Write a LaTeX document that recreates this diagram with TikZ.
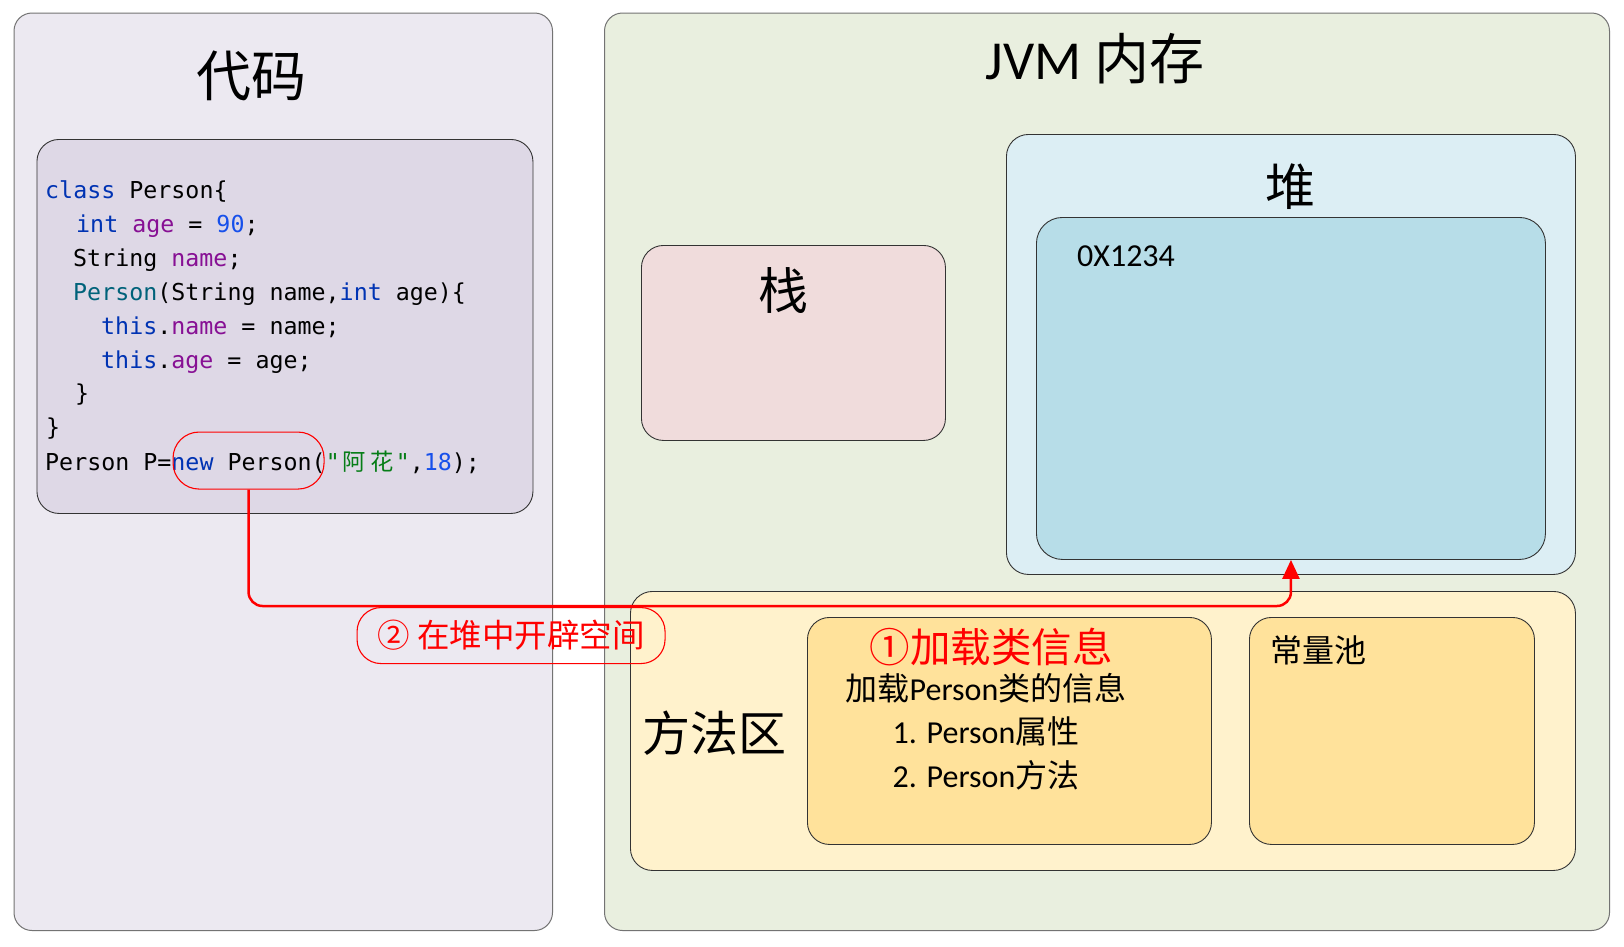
\documentclass[tikz,border=0pt]{standalone}
\usepackage{fontspec}
\setmainfont{Carlito}
\setmonofont{DejaVu Sans Mono}
\newfontfamily\cjk{Noto Sans CJK SC}
\usetikzlibrary{arrows.meta}
\definecolor{leftbg}{HTML}{ECE9F1}
\definecolor{codebg}{HTML}{DED8E6}
\definecolor{rightbg}{HTML}{E9EFDF}
\definecolor{stackbg}{HTML}{F0DCDC}
\definecolor{heapout}{HTML}{DCEEF4}
\definecolor{heapin}{HTML}{B7DDE8}
\definecolor{methbg}{HTML}{FFF2CC}
\definecolor{yelbox}{HTML}{FFE29B}
\definecolor{kw}{HTML}{0033B3}
\definecolor{fld}{HTML}{871094}
\definecolor{num}{HTML}{1750EB}
\definecolor{mth}{HTML}{00627A}
\definecolor{strc}{HTML}{067D17}
\definecolor{rd}{HTML}{FF0000}
\newcommand{\kwd}[1]{\textcolor{kw}{#1}}
\newcommand{\fldc}[1]{\textcolor{fld}{#1}}
\newcommand{\numc}[1]{\textcolor{num}{#1}}
\newcommand{\cj}[1]{\makebox[28pt][c]{\cjk #1}}
\begin{document}
\begin{tikzpicture}[x=1pt,y=-1pt,
  panel/.style={draw=black!55, line width=1pt, rounded corners=18pt, anchor=north west, inner sep=0pt},
  box/.style={draw=black!80, line width=0.9pt, rounded corners=22pt, anchor=north west, inner sep=0pt},
  redbox/.style={draw=rd, line width=1.1pt, rounded corners=25pt, anchor=north west, inner sep=0pt},
  codeline/.style={anchor=base west, inner sep=0pt, font=\ttfamily\fontsize{23.3}{28}\selectfont},
  title/.style={inner sep=0pt, font=\cjk\fontsize{55}{64}\selectfont},
  lbl/.style={inner sep=0pt, font=\cjk\fontsize{32}{38}\selectfont},
  redarrow/.style={draw=rd, line width=2.5pt, rounded corners=14pt, -{Triangle[width=17pt,length=19pt]}}
]
\useasboundingbox (0,0) rectangle (1624,946);
\fill[white] (0,0) rectangle (1624,946);

% panels
\node[panel, fill=leftbg, minimum width=538.5pt, minimum height=917.5pt] (leftp) at (13.5,12.5) {};
\node[panel, fill=rightbg, minimum width=1005pt, minimum height=917.5pt] (rightp) at (604,12.5) {};

% titles
\node[title] (t1) at (251,76) {代码};
\node[title, font=\fontsize{55}{64}\selectfont] (t2) at (1095,59) {JVM {\cjk 内存}};

% code box
\node[box, fill=codebg, minimum width=496pt, minimum height=374pt] (code) at (36.5,139) {};
\node[codeline] (c1) at (45,198) {\kwd{class} Person\{};
\node[codeline] (c2) at (76,232) {\kwd{int} \fldc{age} = \numc{90};};
\node[codeline] (c3) at (73,266) {String \fldc{name};};
\node[codeline] (c4) at (73,300) {\textcolor{mth}{Person}(String name,\kwd{int} age)\{};
\node[codeline] (c5) at (101,334) {\kwd{this}.\fldc{name} = name;};
\node[codeline] (c6) at (101,368) {\kwd{this}.\fldc{age} = age;};
\node[codeline] (c7) at (75,401) {\}};
\node[codeline] (c8) at (46,435) {\}};
\node[codeline] (c9) at (45,470) {Person P=\kwd{new} Person(\textcolor{strc}{"\cj{阿}\cj{花}"},\numc{18});};

% stack
\node[box, fill=stackbg, minimum width=304pt, minimum height=195pt] (stack) at (641,245) {};
\node[title, font=\cjk\fontsize{50}{58}\selectfont] (stackt) at (783,290) {栈};

% heap
\node[box, fill=heapout, minimum width=569pt, minimum height=440pt] (heapo) at (1006,134) {};
\node[title, font=\cjk\fontsize{50}{58}\selectfont] (heapt) at (1290,187) {堆};
\node[box, fill=heapin, rounded corners=26pt, minimum width=509pt, minimum height=342pt] (heapi) at (1036,217) {};
\node[anchor=west, inner sep=0pt, font=\fontsize{32}{38}\selectfont] (addr) at (1077,256) {0X1234};

% method area
\node[box, fill=methbg, minimum width=945pt, minimum height=279pt] (meth) at (630,591) {};
\node[title, font=\cjk\fontsize{48}{58}\selectfont] (metht) at (714.5,733) {方法区};
\node[box, fill=yelbox, minimum width=404pt, minimum height=227pt] (cls) at (807,617) {};
\node[box, fill=yelbox, minimum width=285pt, minimum height=227pt] (pool) at (1249,617) {};
\node[lbl, text=rd, font=\cjk\fontsize{40.5}{48}\selectfont] (clst) at (991,647) {①加载类信息};
\node[lbl] (cl1) at (986,688) {加载{\fontspec{Carlito}Person}类的信息};
\node[lbl] (cl2) at (986,731) {{\fontspec{Carlito}1. Person}属性};
\node[lbl] (cl3) at (986,775) {{\fontspec{Carlito}2. Person}方法};
\node[lbl, anchor=west] (poolt) at (1270,650) {常量池};

% red highlight and arrow
\node[redbox, minimum width=151pt, minimum height=57pt, rounded corners=26pt] (newo) at (172.5,431.5) {};
\coordinate (turn) at (700,606);
\draw[redarrow] (newo.south) |- (turn) -| (heapi.south);
\node[redbox, rounded corners=24pt, minimum width=308pt, minimum height=56pt] (lab) at (356.5,607) {};
\node[lbl, text=rd, font=\cjk\fontsize{32.5}{38}\selectfont] (labt) at (lab.center) {② 在堆中开辟空间};
\end{tikzpicture}
\end{document}
